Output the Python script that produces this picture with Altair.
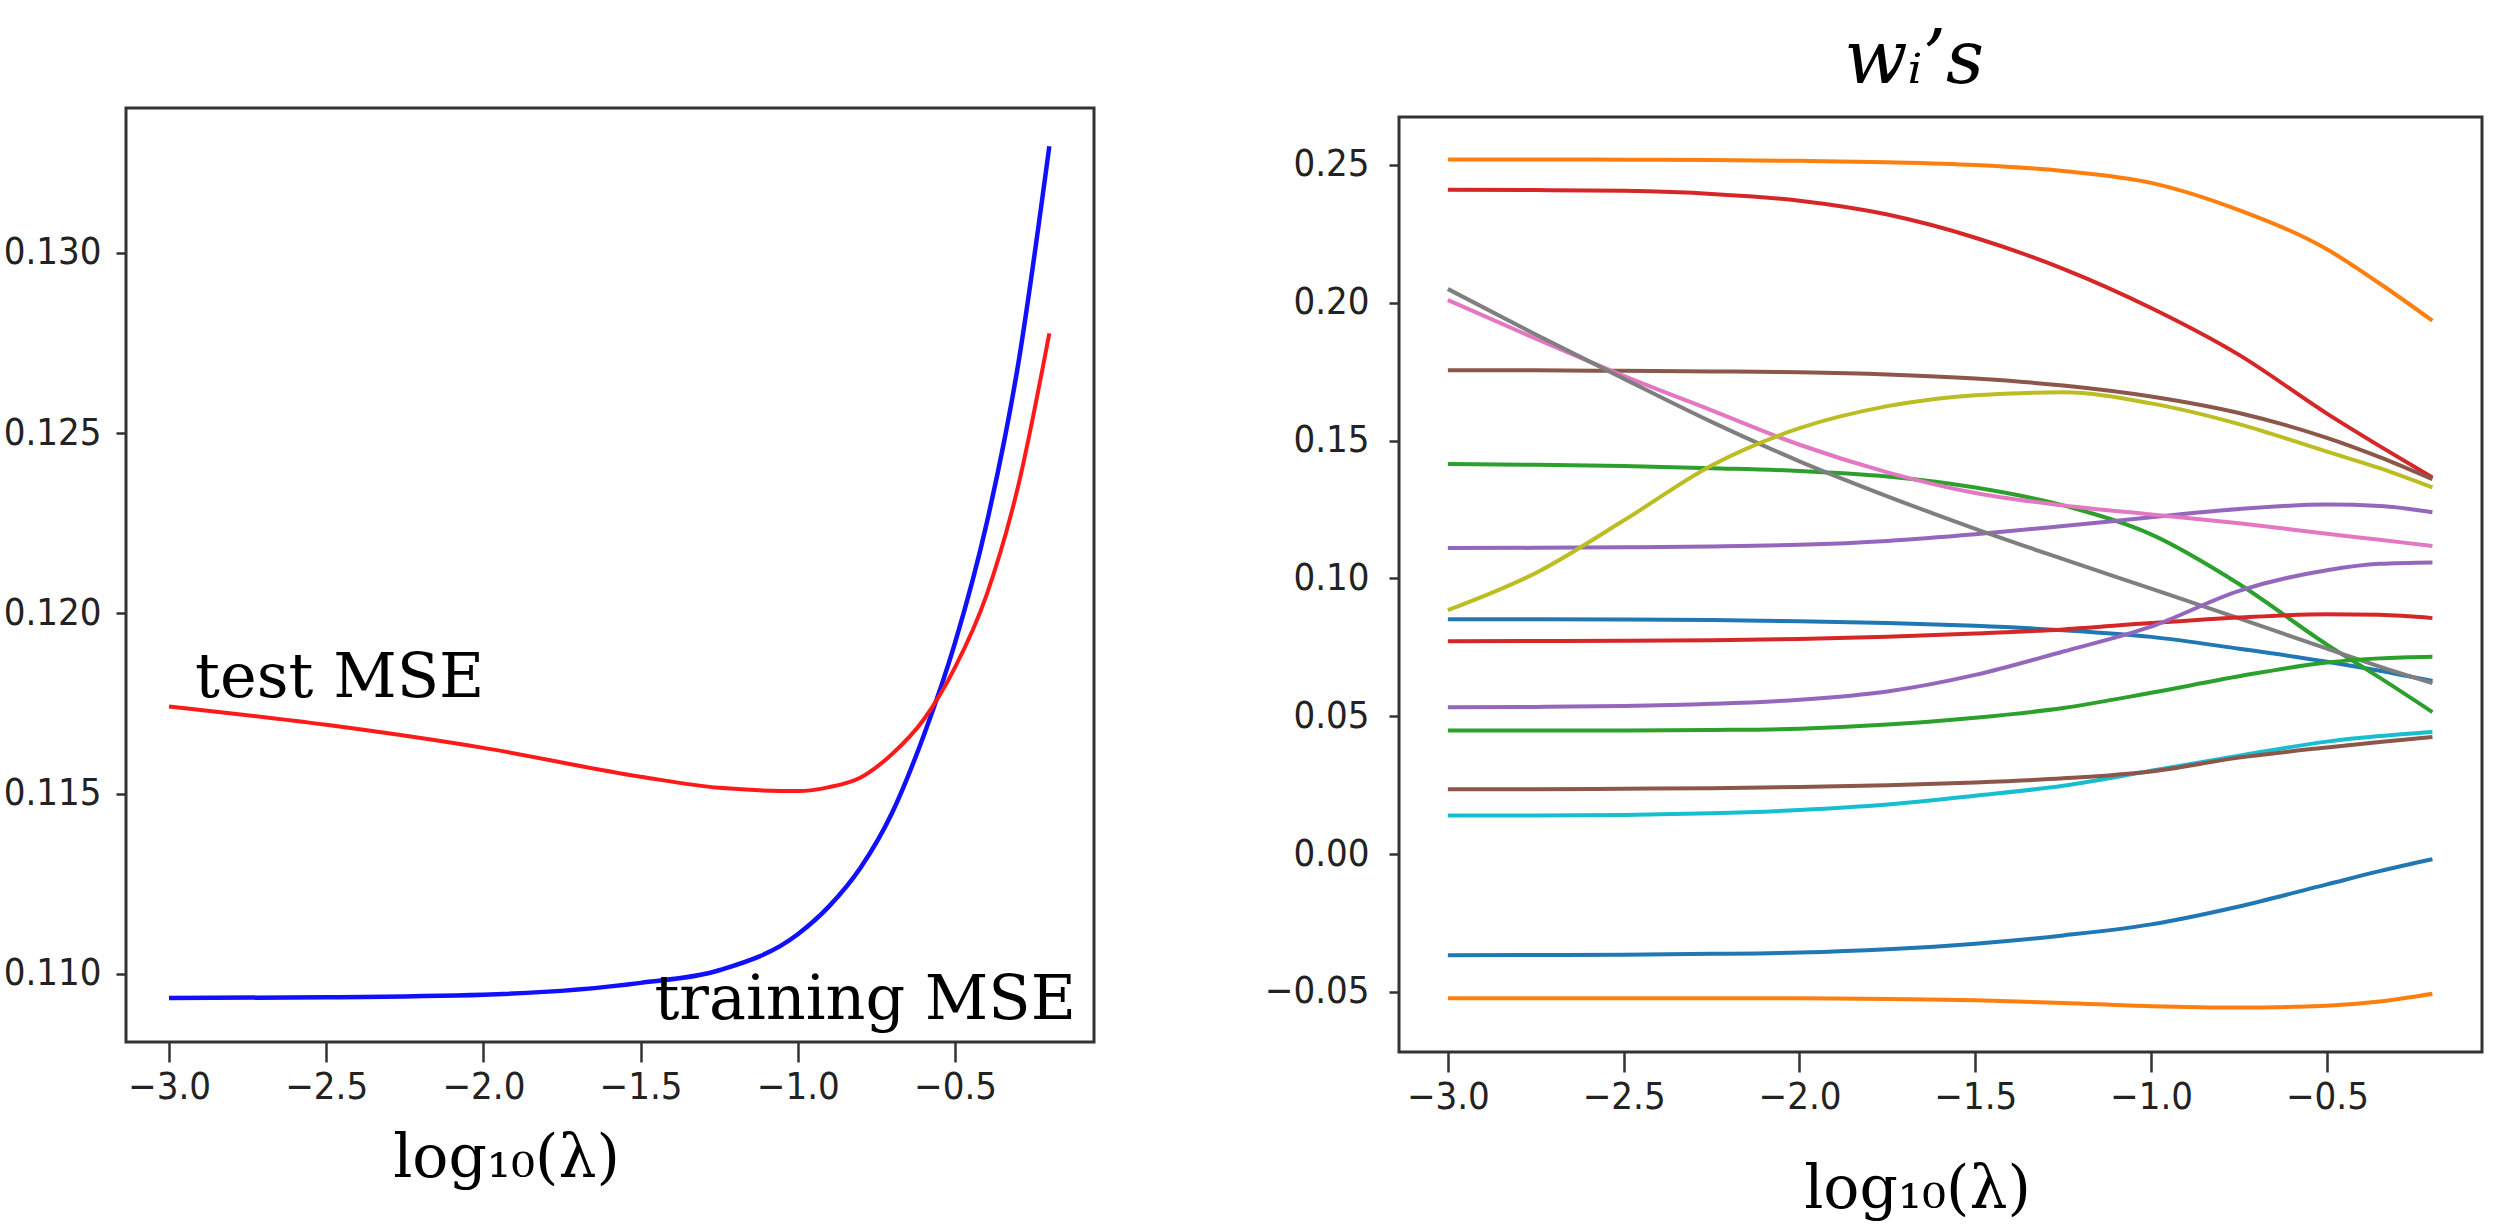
import altair as alt
import pandas as pd

# ---------------- left panel: MSE vs log10(lambda) ----------------
lam_x = [-3.0, -2.5, -2.0, -1.5, -1.25, -1.0, -0.9, -0.8, -0.7, -0.6, -0.5, -0.4, -0.3, -0.2]
train_mse = [0.10933, 0.10935, 0.10942, 0.10975, 0.11010, 0.11110, 0.11188, 0.11295,
             0.11447, 0.11660, 0.11918, 0.12247, 0.12686, 0.13296]
test_mse = [0.11742, 0.11691, 0.11627, 0.11547, 0.11516, 0.11507, 0.11518, 0.11545,
            0.11610, 0.11705, 0.11850, 0.12050, 0.12350, 0.12777]
mse_ticks_y = [0.110, 0.115, 0.120, 0.125, 0.130]
lam_ticks = [-3.0, -2.5, -2.0, -1.5, -1.0, -0.5]

ann_labels = ["test MSE", "training MSE"]
ann_x = [-2.917, -0.115]
ann_y = [0.11768, 0.10875]

# ---------------- right panel: coefficient paths ----------------
w_x = [-3.0, -2.75, -2.5, -2.25, -2.0, -1.75, -1.5, -1.25, -1.0, -0.75, -0.5, -0.35, -0.2]
w01 = [0.0852, 0.0852, 0.0851, 0.0849, 0.0845, 0.0838, 0.0828, 0.0812, 0.0788, 0.0745, 0.0698, 0.0665, 0.0628]
w02 = [0.2520, 0.2520, 0.2519, 0.2518, 0.2515, 0.2510, 0.2500, 0.2478, 0.2435, 0.2336, 0.2194, 0.2070, 0.1935]
w03 = [0.1415, 0.1412, 0.1408, 0.1400, 0.1390, 0.1370, 0.1330, 0.1265, 0.1160, 0.0980, 0.0760, 0.0640, 0.0515]
w04 = [0.2410, 0.2409, 0.2406, 0.2395, 0.2370, 0.2320, 0.2236, 0.2123, 0.1981, 0.1811, 0.1598, 0.1480, 0.1366]
w05 = [0.1110, 0.1111, 0.1113, 0.1116, 0.1122, 0.1136, 0.1160, 0.1190, 0.1222, 0.1252, 0.1268, 0.1263, 0.1240]
w06 = [0.1755, 0.1755, 0.1753, 0.1751, 0.1748, 0.1740, 0.1725, 0.1700, 0.1660, 0.1600, 0.1510, 0.1440, 0.1360]
w07 = [0.2010, 0.1870, 0.1735, 0.1610, 0.1485, 0.1385, 0.1310, 0.1265, 0.1232, 0.1200, 0.1162, 0.1140, 0.1118]
w08 = [0.2050, 0.1885, 0.1725, 0.1568, 0.1425, 0.1298, 0.1180, 0.1070, 0.0963, 0.0855, 0.0745, 0.0680, 0.0620]
w09 = [0.0885, 0.1020, 0.1210, 0.1410, 0.1545, 0.1625, 0.1665, 0.1675, 0.1635, 0.1560, 0.1460, 0.1400, 0.1330]
w10 = [0.0140, 0.0140, 0.0142, 0.0148, 0.0160, 0.0180, 0.0212, 0.0248, 0.0302, 0.0357, 0.0408, 0.0428, 0.0443]
w11 = [-0.0367, -0.0366, -0.0365, -0.0362, -0.0357, -0.0345, -0.0325, -0.0295, -0.0255, -0.0190, -0.0110, -0.0062, -0.0019]
w12 = [-0.0523, -0.0523, -0.0523, -0.0523, -0.0523, -0.0526, -0.0530, -0.0540, -0.0552, -0.0557, -0.0550, -0.0535, -0.0507]
w13 = [0.0448, 0.0448, 0.0448, 0.0450, 0.0455, 0.0470, 0.0495, 0.0530, 0.0585, 0.0645, 0.0695, 0.0710, 0.0716]
w14 = [0.0772, 0.0773, 0.0774, 0.0776, 0.0780, 0.0788, 0.0800, 0.0815, 0.0838, 0.0858, 0.0870, 0.0868, 0.0856]
w15 = [0.0533, 0.0534, 0.0537, 0.0545, 0.0560, 0.0590, 0.0650, 0.0735, 0.0825, 0.0955, 0.1030, 0.1053, 0.1058]
w16 = [0.0235, 0.0235, 0.0237, 0.0239, 0.0243, 0.0250, 0.0260, 0.0275, 0.0300, 0.0350, 0.0387, 0.0407, 0.0425]
w_names = ["w01", "w02", "w03", "w04", "w05", "w06", "w07", "w08",
           "w09", "w10", "w11", "w12", "w13", "w14", "w15", "w16"]
w_series = [w01, w02, w03, w04, w05, w06, w07, w08, w09, w10, w11, w12, w13, w14, w15, w16]
w_colors = ["#1f77b4", "#ff7f0e", "#2ca02c", "#d62728", "#9467bd", "#8c564b", "#e377c2", "#7f7f7f",
            "#bcbd22", "#17becf", "#1f77b4", "#ff7f0e", "#2ca02c", "#d62728", "#9467bd", "#8c564b"]
w_ticks_y = [-0.05, 0.0, 0.05, 0.10, 0.15, 0.20, 0.25]

# ---------------- tables ----------------
df_train = pd.DataFrame({"x": lam_x, "y": train_mse})
df_test = pd.DataFrame({"x": lam_x, "y": test_mse})
df_ann = pd.DataFrame({"x": ann_x, "y": ann_y, "label": ann_labels})
rows = []
for name, vals in zip(w_names, w_series):
    for xv, v in zip(w_x, vals):
        rows.append({"x": xv, "w": v, "series": name})
df_w = pd.DataFrame(rows)
df_spacer = pd.DataFrame({"s": [0.0]})

LABEL_FONT = "DejaVu Sans Condensed, Liberation Sans, sans-serif"
SERIF = "DejaVu Serif"
TITLE_TXT = "w\u1d62\u2019s"
AX_TITLE = "log\u2081\u2080(\u03bb)"

# ---------------- left chart ----------------
xL = alt.X("x:Q",
           scale=alt.Scale(domain=[-3.1368, -0.0579], nice=False, zero=False),
           axis=alt.Axis(values=lam_ticks, format=".1f", tickSize=20, labelPadding=6,
                         title=AX_TITLE, titleX=380, titleY=134, titleAlign="center",
                         titleBaseline="alphabetic"))
yL = alt.Y("y:Q",
           scale=alt.Scale(domain=[0.10811, 0.13402], nice=False, zero=False),
           axis=alt.Axis(values=mse_ticks_y, format=".3f", tickSize=10, labelPadding=15,
                         minExtent=124, maxExtent=124, title=None))

train_line = alt.Chart(df_train).mark_line(
    interpolate="monotone", strokeWidth=4.5, color="#1010ff").encode(x=xL, y=yL)
test_line = alt.Chart(df_test).mark_line(
    interpolate="monotone", strokeWidth=4, color="#ff1a1a").encode(x=xL, y=yL)
ann_test = alt.Chart(df_ann).transform_filter(alt.datum.label == "test MSE").mark_text(
    font=SERIF, fontSize=62, align="left", baseline="alphabetic", color="black"
).encode(x=xL, y=yL, text="label:N")
ann_train = alt.Chart(df_ann).transform_filter(alt.datum.label == "training MSE").mark_text(
    font=SERIF, fontSize=62, align="right", baseline="alphabetic", color="black"
).encode(x=xL, y=yL, text="label:N")

left = alt.layer(train_line, test_line, ann_test, ann_train).properties(width=968, height=934)

# ---------------- right chart ----------------
xR = alt.X("x:Q",
           scale=alt.Scale(domain=[-3.139, -0.059], nice=False, zero=False),
           axis=alt.Axis(values=lam_ticks, format=".1f", tickSize=20, labelPadding=6,
                         title=AX_TITLE, titleX=518, titleY=155, titleAlign="center",
                         titleBaseline="alphabetic"))
yR = alt.Y("w:Q",
           scale=alt.Scale(domain=[-0.0718, 0.2674], nice=False, zero=False),
           axis=alt.Axis(values=w_ticks_y, format=".2f", tickSize=10, labelPadding=20,
                         minExtent=130, maxExtent=130, title=None))

right_inner = alt.Chart(df_w).mark_line(interpolate="monotone", strokeWidth=4).encode(
    x=xR, y=yR,
    color=alt.Color("series:N", scale=alt.Scale(domain=w_names, range=w_colors), legend=None),
).properties(width=1083, height=935)

spacer = alt.Chart(df_spacer).mark_point(opacity=0).encode(
    x=alt.X("s:Q", axis=None), y=alt.Y("s:Q", axis=None)
).properties(width=1083, height=7,
             view=alt.ViewBackground(stroke="transparent", strokeWidth=0))

right = alt.vconcat(spacer, right_inner, spacing=0).properties(
    title=alt.TitleParams(text=TITLE_TXT, font=SERIF, fontSize=74, fontStyle="italic",
                          fontWeight="normal", baseline="alphabetic", anchor="middle",
                          dx=41, offset=-49, color="black"),
)

chart = alt.hconcat(left, right, spacing=166).properties(
    padding={"left": 0, "top": 24, "right": 0, "bottom": 0},
    background="white",
).configure_view(
    stroke="#333333", strokeWidth=3,
).configure_axis(
    labelFont=LABEL_FONT, labelFontSize=38, labelColor="#222222",
    tickColor="#333333", tickWidth=2.5, domain=False, grid=False,
    labelFlush=False, labelOverlap=False,
    titleFont=SERIF, titleFontSize=60, titleFontWeight="normal", titleColor="black",
)

chart.save("out.html", embed_options={"renderer": "svg", "actions": False})
